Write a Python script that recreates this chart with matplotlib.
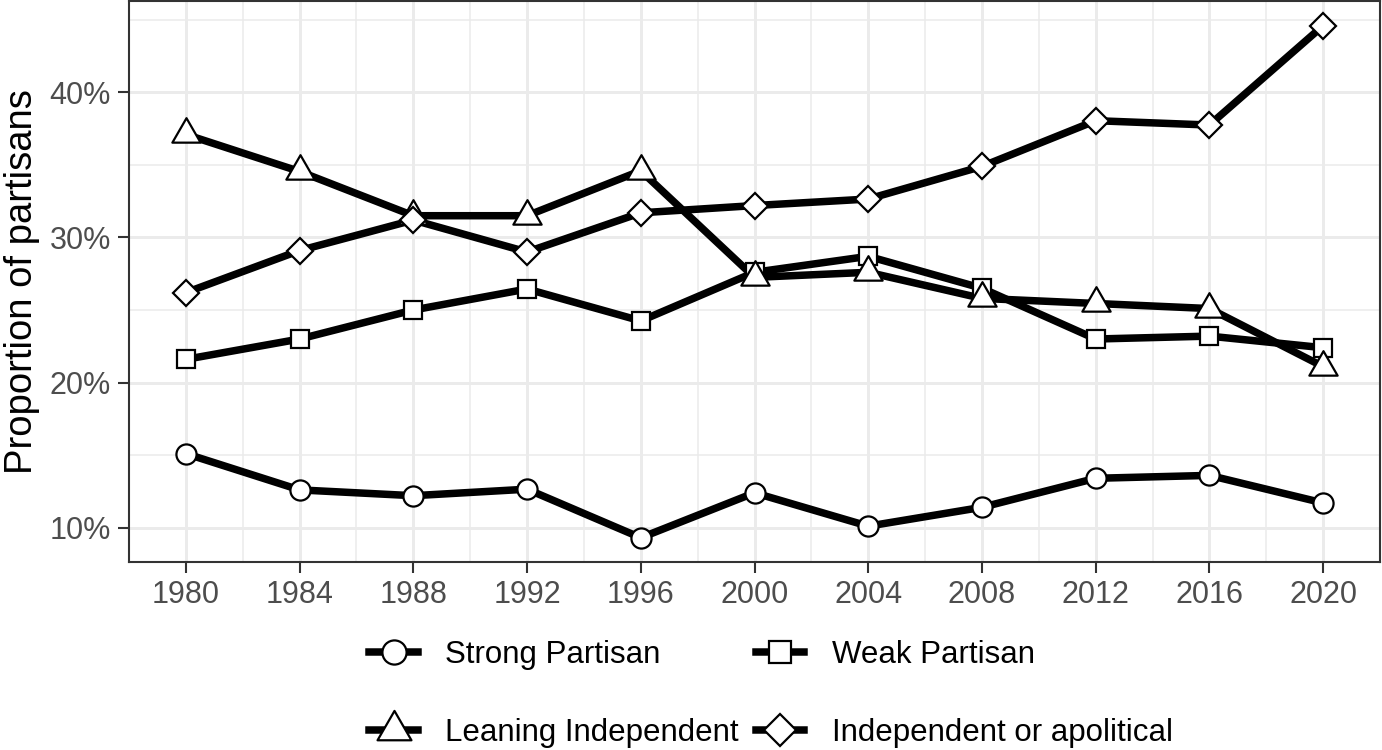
import matplotlib
matplotlib.use("Agg")
import matplotlib.pyplot as plt
from matplotlib.lines import Line2D
from matplotlib.path import Path
from matplotlib.ticker import FuncFormatter, MultipleLocator

plt.rcParams['font.family'] = ['Liberation Sans', 'DejaVu Sans']

years = [1980, 1984, 1988, 1992, 1996, 2000, 2004, 2008, 2012, 2016, 2020]
strong = [15.1, 12.6, 12.2, 12.65, 9.3, 12.4, 10.1, 11.4, 13.4, 13.6, 11.7]
weak = [21.6, 23.0, 25.0, 26.45, 24.25, 27.6, 28.7, 26.5, 23.0, 23.2, 22.4]
leaning = [37.1, 34.55, 31.5, 31.5, 34.6, 27.25, 27.6, 25.8, 25.45, 25.1, 21.1]
independent = [26.2, 29.1, 31.2, 29.0, 31.7, 32.2, 32.65, 34.9, 38.05, 37.75, 44.6]

labels = ["Strong Partisan", "Weak Partisan", "Leaning Independent", "Independent or apolitical"]
series = [strong, weak, leaning, independent]

tri = Path([(-1.0, -0.577), (1.0, -0.577), (0.0, 1.155), (-1.0, -0.577)], closed=True)
markers = ['o', 's', tri, 'D']
msizes = [14.5, 13.5, 23.5, 13.2]

fig = plt.figure(figsize=(13.82, 7.5), dpi=100)
ax = fig.add_axes([129/1382, 188/750, (1380-129)/1382, (561)/750])

for vals in series:
    ax.plot(years, vals, color='black', lw=5.4, solid_capstyle='butt', zorder=3)
for vals, m, ms in zip(series, markers, msizes):
    ax.plot(years, vals, linestyle='none', marker=m, markersize=ms,
            markerfacecolor='white', markeredgecolor='black', markeredgewidth=1.6, zorder=4)

ax.set_xlim(1978, 2022)
ax.set_ylim(7.63, 46.3)
ax.set_xticks(years)
ax.xaxis.set_minor_locator(MultipleLocator(2))
ax.set_yticks([10, 20, 30, 40])
ax.set_yticks([15, 25, 35, 45], minor=True)
ax.yaxis.set_major_formatter(FuncFormatter(lambda v, p: f"{int(round(v))}%"))

ax.grid(True, which='major', color='#EBEBEB', lw=2.1, zorder=0)
ax.grid(True, which='minor', color='#EBEBEB', lw=1.1, zorder=0)
ax.set_axisbelow(True)
ax.tick_params(which='major', direction='out', length=8, width=1.5, color='#333333',
               labelsize=22, labelcolor='#4D4D4D', pad=5)
ax.tick_params(which='minor', length=0)
for s in ax.spines.values():
    s.set_color('#333333')
    s.set_linewidth(1.5)

ax.set_ylabel("Proportion of partisans", fontsize=27.5, color='black')
ax.yaxis.set_label_coords(-0.071, 0.5)

handles = []
for m, ms in zip(markers, msizes):
    handles.append(Line2D([], [], color='black', lw=5.4, marker=m, markersize=ms*1.2,
                          markerfacecolor='white', markeredgecolor='black', markeredgewidth=1.6))
order = [0, 2, 1, 3]
fig.legend([handles[i] for i in order], [labels[i] for i in order], ncol=2,
           loc='center', bbox_to_anchor=(771/1382, 1-694/750), frameon=False,
           fontsize=22.5, handlelength=1.55, handletextpad=0.87, columnspacing=0.55,
           labelspacing=1.56, borderpad=0)

fig.savefig("out.png", dpi=100)
